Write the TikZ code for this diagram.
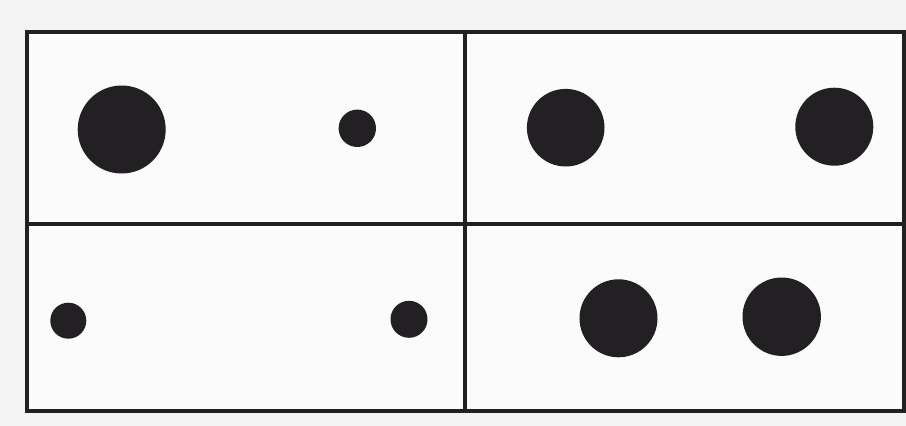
\documentclass[tikz,border=0pt]{standalone}
\definecolor{paper}{HTML}{F3F3F3}
\definecolor{inner}{HTML}{FBFBFB}
\definecolor{ink}{HTML}{222022}
\begin{document}
\begin{tikzpicture}[x=1pt,y=-1pt,
  frameline/.style={draw=ink,line width=4pt},
  dot/.style={circle,fill=ink,draw=none,inner sep=0pt}]
\useasboundingbox (0,0) rectangle (906,426);
\fill[paper] (0,0) rectangle (906,426);
\fill[inner] (27,32) rectangle (904,410.5);
% frame and dividers
\draw[frameline] (27,32) rectangle (903.5,410.5);
\draw[frameline] (464.5,32) -- (464.5,410.5);
\draw[frameline] (27,223.5) -- (903.5,223.5);
% top-left panel
\node[dot,minimum size=88pt] (a1) at (121.7,129.5) {};
\node[dot,minimum size=37.4pt] (a2) at (357.3,128.3) {};
% top-right panel
\node[dot,minimum size=77.6pt] (b1) at (565.7,127.7) {};
\node[dot,minimum size=78pt] (b2) at (834.3,126.7) {};
% bottom-left panel
\node[dot,minimum size=36pt] (c1) at (68.3,320.7) {};
\node[dot,minimum size=37pt] (c2) at (409,319.3) {};
% bottom-right panel
\node[dot,minimum size=78pt] (d1) at (618.5,318.3) {};
\node[dot,minimum size=78.4pt] (d2) at (781.7,316.7) {};
\end{tikzpicture}
\end{document}
